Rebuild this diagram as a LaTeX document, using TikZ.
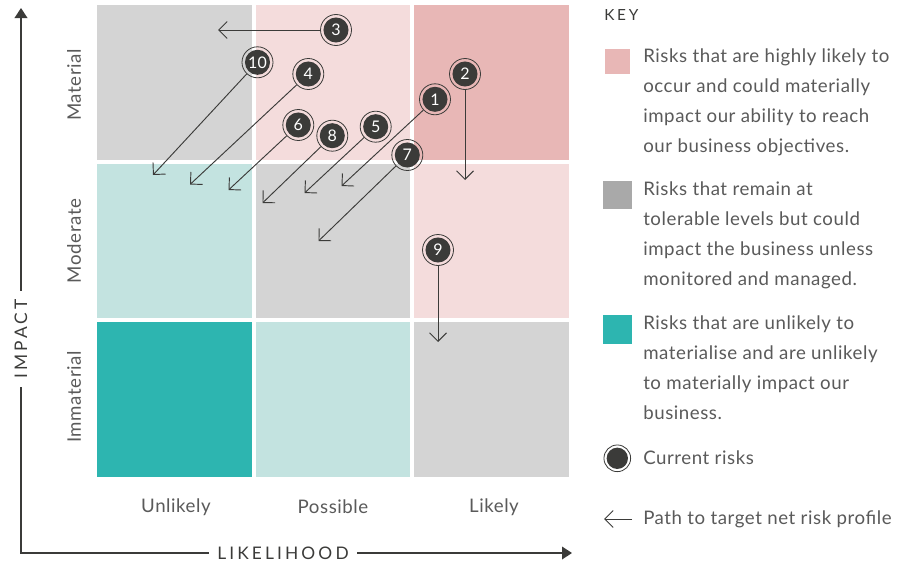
\documentclass[tikz,border=0pt]{standalone}
\usepackage{fontspec}
\setmainfont{Lato}
\newfontfamily\body[LetterSpace=3]{Lato}
\newfontfamily\spaced[LetterSpace=18]{Lato}
\usetikzlibrary{arrows.meta}
\definecolor{dk}{HTML}{3B3B39}
\definecolor{txt}{HTML}{5A5A5A}
\definecolor{gry}{HTML}{D4D4D4}
\definecolor{lpink}{HTML}{F4DCDC}
\definecolor{dpink}{HTML}{E8B7B6}
\definecolor{lteal}{HTML}{C3E3E0}
\definecolor{tealc}{HTML}{2DB5B0}
\definecolor{kgry}{HTML}{A9A9A9}
\begin{document}
\begin{tikzpicture}[x=0.75pt,y=-0.75pt,
  marker/.style={circle, draw=dk, line width=0.6pt, minimum size=23.25pt, inner sep=0pt,
    text=white, font=\fontsize{12}{12}\selectfont,
    path picture={\fill[dk] (path picture bounding box.center) circle (9.4pt);}},
  arr/.style={dk, line width=0.7pt, -{Straight Barb[length=6.4pt,width=12.8pt,line width=0.7pt]}},
  axis/.style={dk, line width=1pt},
  lbl/.style={text=txt, font=\body\fontsize{14}{14}\selectfont, inner sep=0pt},
  keytxt/.style={text=txt, font=\body\fontsize{14}{22.5}\selectfont, align=left, inner sep=0pt, anchor=north west},
  axlbl/.style={text=dk, fill=white, font=\spaced\fontsize{13}{13}\selectfont, inner xsep=6pt, inner ysep=2pt}
]
\useasboundingbox[fill=white] (0,0) rectangle (911,564);
% grid
\fill[gry]   (97,5)    rectangle (252,160);
\fill[lpink] (256,5)   rectangle (410,160);
\fill[dpink] (414,5)   rectangle (569,160);
\fill[lteal] (97,164)  rectangle (252,318);
\fill[gry]   (256,164) rectangle (410,318);
\fill[lpink] (414,164) rectangle (569,318);
\fill[tealc] (97,322)  rectangle (252,477);
\fill[lteal] (256,322) rectangle (410,477);
\fill[gry]   (414,322) rectangle (569,477);
% axes
\coordinate (yt) at (21,8);
\coordinate (o) at (21,553);
\coordinate (xe) at (572,553);
\draw[axis, {Triangle[length=7.5pt,width=9.5pt]}-{Triangle[length=7.5pt,width=9.5pt]}] (yt) -- (o) -- (xe);
\node[axlbl, rotate=90] (impact) at (21,339) {IMPACT};
\node[axlbl] (likelihood) at (283,553) {LIKELIHOOD};
% row / column labels
\node[lbl, rotate=90] (rmat) at (74,85) {Material};
\node[lbl, rotate=90] (rmod) at (74,241) {Moderate};
\node[lbl, rotate=90] (rimm) at (74,397) {Immaterial};
\node[lbl] (cun) at (176,507) {Unlikely};
\node[lbl] (cpo) at (333,507) {Possible};
\node[lbl] (cli) at (494,507) {Likely};
% targets
\coordinate (t3) at (218,30);
\coordinate (t10) at (153,175);
\coordinate (t4) at (190,184.5);
\coordinate (t6) at (228.5,190);
\coordinate (t8) at (262.5,203);
\coordinate (t5) at (304.5,193);
\coordinate (t1) at (341.5,186);
\coordinate (t7) at (318.5,241);
\coordinate (t2) at (465,180);
\coordinate (t9) at (438,342);
% markers
\node[marker] (m3) at (336,30) {3};
\node[marker] (m10) at (257.5,62.3) {10};
\node[marker] (m4) at (308.3,74) {4};
\node[marker] (m2) at (465,74) {2};
\node[marker] (m1) at (435,99.3) {1};
\node[marker] (m6) at (298.3,125) {6};
\node[marker] (m8) at (332.3,135.7) {8};
\node[marker] (m5) at (375.7,126.7) {5};
\node[marker] (m7) at (407.3,155) {7};
\node[marker] (m9) at (438,250) {9};
\foreach \n in {3,10,4,6,8,5,1,7,2,9} \draw[arr] (m\n) -- (t\n);
% key
\node[text=dk, font=\spaced\fontsize{11.5}{11.5}\selectfont, inner sep=0pt, anchor=west] (key) at (604,15) {KEY};
\fill[dpink] (605,49) rectangle (630,74);
\node[keytxt] (k1) at (643,48) {Risks that are highly likely to\\occur and could materially\\impact our ability to reach\\our business objectives.};
\fill[kgry] (603,181) rectangle (632,209);
\node[keytxt] (k2) at (643,181) {Risks that remain at\\tolerable levels but could\\impact the business unless\\monitored and managed.};
\fill[tealc] (603,315) rectangle (632,344);
\node[keytxt] (k3) at (643,315) {Risks that are unlikely to\\materialise and are unlikely\\to materially impact our\\business.};
\node[marker, minimum size=20pt, path picture={\fill[dk] (path picture bounding box.center) circle (8pt);}] (kc) at (617.3,458.3) {};
\node[lbl, anchor=west] (k4) at (643,458) {Current risks};
\coordinate (ka1) at (632,519);
\coordinate (ka2) at (604,519);
\draw[arr] (ka1) -- (ka2);
\node[lbl, anchor=west] (k5) at (643,519) {Path to target net risk profile};
\end{tikzpicture}
\end{document}
